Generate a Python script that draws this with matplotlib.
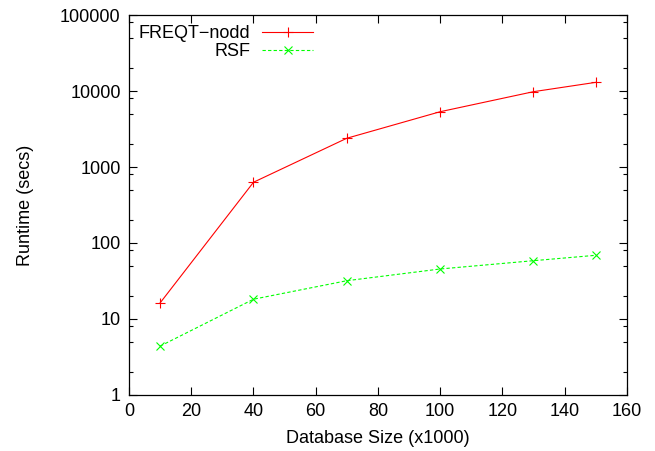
import numpy as np
import matplotlib
matplotlib.use('Agg')
import matplotlib.pyplot as plt
from matplotlib.ticker import LogLocator, NullFormatter

## data
db_size = [10, 40, 70, 100, 130, 150]
freqt_nodd = [16.3, 630, 2390, 5340, 9800, 13000]
rsf = [4.4, 18.2, 31.9, 45.5, 58.5, 68.9]

plt.rcParams['font.family'] = ['Liberation Sans', 'DejaVu Sans']
plt.rcParams['font.size'] = 13

fig = plt.figure(figsize=(6.55, 4.51), dpi=100)
ax = fig.add_axes([0.197, 0.1242, 0.760, 0.8425])

ax.plot(db_size, freqt_nodd, color='#ff0000', lw=0.8, marker='+', ms=6.5, mew=0.8,
        label='FREQT\u2212nodd')
ax.plot(db_size, rsf, color='#00ff00', lw=0.8, ls=(0, (3, 2)), marker='x', ms=6, mew=0.8,
        label='RSF')

ax.set_yscale('log')
ax.set_xlim(0, 160)
ax.set_ylim(1, 100000)
ax.set_xticks(np.arange(0, 161, 20))
ax.set_yticks([1, 10, 100, 1000, 10000, 100000])
ax.set_yticklabels(['1', '10', '100', '1000', '10000', '100000'])
## gnuplot-style minor ticks
ax.yaxis.set_minor_locator(LogLocator(base=10, subs=[2, 5, 8]))
ax.yaxis.set_minor_formatter(NullFormatter())

ax.tick_params(which='both', direction='in', top=True, right=True, width=0.8)
ax.tick_params(which='major', length=6, pad=6)
ax.tick_params(which='minor', length=3)
for s in ax.spines.values():
    s.set_linewidth(0.9)

ax.set_xlabel('Database Size (x1000)', labelpad=7)
ax.set_ylabel('Runtime (secs)', labelpad=19)

leg = ax.legend(loc='upper left', bbox_to_anchor=(0.0, 1.0), frameon=False,
                markerfirst=False, handlelength=2.8, handletextpad=0.65,
                labelspacing=0.05, borderaxespad=0.35, borderpad=0.2)

fig.savefig('out.png', dpi=100)
